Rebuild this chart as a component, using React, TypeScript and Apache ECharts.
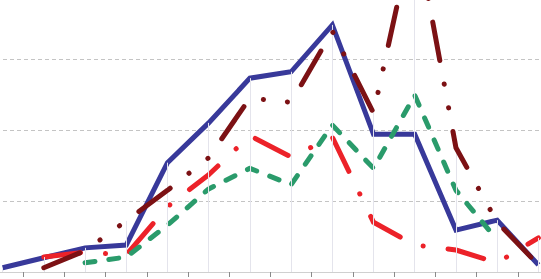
import React, { useEffect, useRef } from "react";
import * as echarts from "echarts";

const categories = ["1", "2", "3", "4", "5", "6", "7", "8", "9", "10", "11", "12", "13", "14"];
const blueValues = [0.6, 2.0, 3.4, 3.8, 15.4, 21.0, 27.3, 28.2, 34.8, 19.4, 19.4, 5.9, 7.3, 1.0];
const darkRedValues = [null, 0.6, 3.0, 7.2, 11.5, 16.1, 24.5, 23.9, 33.9, 22.4, 48.9, 17.5, 7.0, 1.0];
const redValues = [null, 2.1, 2.8, 2.4, 9.2, 13.7, 19.2, 16.2, 19.0, 7.0, 3.8, 3.1, 1.3, 4.8];
const greenValues = [null, null, 1.3, 2.1, 6.6, 11.7, 14.6, 12.3, 20.7, 14.6, 24.9, 11.5, 4.5, null];
const yTicks = [0, 10, 20, 30, 40, 50];

export default function App() {
  const ref = useRef<HTMLDivElement>(null);
  useEffect(() => {
    if (!ref.current) return;
    const chart = echarts.init(ref.current, null, { renderer: "svg" });
    const all = [blueValues, darkRedValues, redValues, greenValues];
    const dropLines = categories.map((c, i) => {
      const vals = all.map((a) => a[i]).filter((v) => v != null) as number[];
      const m = Math.max(...vals);
      return [{ coord: [c, m] }, { coord: [c, yTicks[0]] }];
    });
    chart.setOption({
      animation: false,
      backgroundColor: "#ffffff",
      grid: { left: 0, right: 0, top: 0, bottom: 7, containLabel: false },
      xAxis: {
        type: "category",
        data: categories,
        boundaryGap: true,
        axisLine: { show: true, lineStyle: { color: "#d0d0d0", width: 1 } },
        axisTick: { show: true, length: 5, lineStyle: { color: "#8a8a8a", width: 1 } },
        axisLabel: { show: false },
        splitLine: { show: false },
      },
      yAxis: {
        type: "value",
        min: yTicks[0],
        max: yTicks[yTicks.length - 1],
        interval: 10,
        axisLine: { show: false },
        axisTick: { show: false },
        axisLabel: { show: false },
        splitLine: { show: true, lineStyle: { color: "#c4c4c4", width: 1, type: [4, 3] } },
      },
      series: [
        {
          type: "line",
          data: categories.map(() => null),
          z: 1,
          silent: true,
          showSymbol: false,
          markLine: {
            silent: true,
            symbol: ["none", "none"],
            label: { show: false },
            lineStyle: { color: "#e4e4ec", width: 1, type: "solid" },
            data: dropLines,
          },
        },
        {
          name: "blue",
          type: "line",
          data: blueValues,
          showSymbol: false,
          symbol: "none",
          z: 2,
          lineStyle: { color: "#38399a", width: 5, join: "miter" },
        },
        {
          name: "red",
          type: "line",
          data: redValues,
          showSymbol: false,
          symbol: "none",
          z: 3,
          lineStyle: { color: "#ec2229", width: 5, cap: "round", join: "round", type: [37, 25, 0.1, 25] },
        },
        {
          name: "green",
          type: "line",
          data: greenValues,
          showSymbol: false,
          symbol: "none",
          z: 4,
          lineStyle: { color: "#2a9b6b", width: 5, cap: "round", join: "round", type: [10, 14] },
        },
        {
          name: "darkred",
          type: "line",
          data: darkRedValues,
          showSymbol: false,
          symbol: "none",
          z: 5,
          lineStyle: { color: "#7c1114", width: 5, cap: "round", join: "round", type: [39, 24, 0.1, 24, 0.1, 24] },
        },
      ],
    });
    return () => chart.dispose();
  }, []);
  return (
    <div
      ref={ref}
      style={{ position: "fixed", left: -18, top: -83, width: 577, height: 362 }}
    />
  );
}
